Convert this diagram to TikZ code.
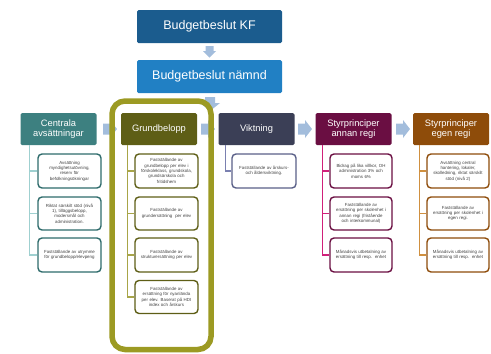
\documentclass[tikz,border=0pt]{standalone}
\usepackage{fontspec}
\setmainfont{Liberation Sans}
\definecolor{kfblue}{HTML}{1B5C8E}
\definecolor{nmblue}{HTML}{2180C4}
\definecolor{arrowblue}{HTML}{A3BDDC}
\definecolor{cteal}{HTML}{3D8080}
\definecolor{cteald}{HTML}{2E6B6B}
\definecolor{ctealL}{HTML}{9FD0D0}
\definecolor{golive}{HTML}{5E5E16}
\definecolor{goliveL}{HTML}{A8A548}
\definecolor{frameol}{HTML}{9C9A23}
\definecolor{vslate}{HTML}{3B3F56}
\definecolor{vslateB}{HTML}{5A6088}
\definecolor{vslateL}{HTML}{7A80B0}
\definecolor{amaroon}{HTML}{6A0E42}
\definecolor{amaroonL}{HTML}{D0207A}
\definecolor{ebrown}{HTML}{8E4C0A}
\definecolor{ebrownL}{HTML}{D09040}
\definecolor{subtext}{HTML}{404040}
\tikzset{
  topbox/.style={draw=none, rounded corners=1.5pt, minimum width=145pt, minimum height=33pt,
    text=white, font=\fontsize{12.5}{14}\selectfont, inner sep=0pt},
  hdr/.style={draw=none, rounded corners=1.5pt, minimum width=76pt, minimum height=32pt,
    text=white, align=center, font=\fontsize{9.3}{10.3}\selectfont, inner sep=0pt},
  subbox/.style={fill=white, line width=1.4pt, rounded corners=4pt, text=subtext, align=center,
    font=\fontsize{4.4}{5.3}\selectfont, inner sep=0pt, text width=60pt},
  conn/.style={line width=1.2pt},
  blockarrow/.style={fill=arrowblue, draw=none}
}
\begin{document}
\begin{tikzpicture}[x=1pt,y=-1pt]
\useasboundingbox (0,0) rectangle (491,354);
% top boxes
\node[topbox, fill=kfblue] (kf) at (209.5,26.5) {Budgetbeslut KF};
\node[topbox, fill=nmblue] (nm) at (209.5,76.5) {Budgetbeslut nämnd};
% down arrows
\fill[blockarrow] (205.5,46) -- (213.5,46) -- (213.5,51) -- (216,51) -- (209.5,57.5) -- (203,51) -- (205.5,51) -- cycle;
\fill[blockarrow] (205,97) -- (215,97) -- (215,103) -- (220,103) -- (210,111) -- (200,103) -- (205,103) -- cycle;
% right arrows
\foreach \ax in {103,201,298,396}{
  \fill[blockarrow] (\ax,123.5) -- (\ax+7,123.5) -- (\ax+7,120) -- (\ax+14,129) -- (\ax+7,138) -- (\ax+7,134.5) -- (\ax,134.5) -- cycle;
}
% highlight frame
\draw[frameol, line width=5.5pt, rounded corners=13pt] (112,101) rectangle (211,349.5);
% headers
\node[hdr, fill=cteal] (c) at (58.5,129) {Centrala\\avsättningar};
\node[hdr, fill=golive] (g) at (159,129) {Grundbelopp};
\node[hdr, fill=vslate] (v) at (256.5,129) {Viktning};
\node[hdr, fill=amaroon] (a) at (353.5,129) {Styrprinciper\\annan regi};
\node[hdr, fill=ebrown] (e) at (451,129) {Styrprinciper\\egen regi};
% connector start points
\coordinate (cl) at ([xshift=9pt]c.south west);
\coordinate (gl) at ([xshift=6.5pt]g.south west);
\coordinate (vl) at ([xshift=7pt]v.south west);
\coordinate (al) at ([xshift=7pt]a.south west);
\coordinate (el) at ([xshift=7pt]e.south west);
% Centrala sub boxes
\node[subbox, draw=cteald, minimum width=63pt, minimum height=34pt] (c1) at (69.5,171) {Avsättning\\myndighetsutövning,\\reserv för\\befolkningsökningar};
\node[subbox, draw=cteald, minimum width=63pt, minimum height=33pt] (c2) at (69.5,213.5) {Riktat särskilt stöd (nivå\\1), tilläggsbelopp,\\modersmål och\\administration.};
\node[subbox, draw=cteald, minimum width=63pt, minimum height=34pt] (c3) at (69.5,255) {Fastställande av utrymme\\för grundbelopp/elevpeng};
% Grundbelopp sub boxes
\node[subbox, draw=golive, minimum width=63pt, minimum height=34pt] (g1) at (166.5,171) {Fastställande av\\grundbelopp per elev i\\förskoleklass, grundskola,\\grundsärskola och\\fritidshem};
\node[subbox, draw=golive, minimum width=63pt, minimum height=33pt] (g2) at (166.5,213.5) {Fastställande av\\grundersättning\ \ per elev};
\node[subbox, draw=golive, minimum width=63pt, minimum height=34pt] (g3) at (166.5,255) {Fastställande av\\strukturersättning per elev};
\node[subbox, draw=golive, minimum width=63pt, minimum height=33pt] (g4) at (166.5,297) {Fastställande av\\ersättning för nyanlända\\per elev. Baserat på HDI\\index och årskurs};
% Viktning sub box
\node[subbox, draw=vslateB, minimum width=64pt, minimum height=34pt] (v1) at (264,171) {Fastställande av årskurs-\\och åldersviktning.};
% Annan regi
\node[subbox, draw=amaroon, minimum width=62pt, minimum height=34pt] (a1) at (361,171) {Bidrag på lika villkor, OH\\administration 3\% och\\moms 6\%};
\node[subbox, draw=amaroon, minimum width=62pt, minimum height=33pt] (a2) at (361,213.5) {Fastställande av\\ersättning per skolenhet i\\annan regi (fristående\\och interkommunal)};
\node[subbox, draw=amaroon, minimum width=62pt, minimum height=34pt] (a3) at (361,255) {Månadsvis utbetalning av\\ersättning till resp.\ \ enhet};
% Egen regi
\node[subbox, draw=ebrown, minimum width=62pt, minimum height=34pt] (e1) at (458,171) {Avsättning central\\hantering, lokaler,\\skolledning, riktat särskilt\\stöd (nivå 2)};
\node[subbox, draw=ebrown, minimum width=62pt, minimum height=33pt] (e2) at (458,213.5) {Fastställande av\\ersättning per skolenhet i\\egen regi.};
\node[subbox, draw=ebrown, minimum width=62pt, minimum height=34pt] (e3) at (458,255) {Månadsvis utbetalning av\\ersättning till resp.\ \ enhet};
% connectors
\draw[conn, ctealL] (cl) |- (c1.west);
\draw[conn, ctealL] (cl) |- (c2.west);
\draw[conn, ctealL] (cl) |- (c3.west);
\draw[conn, goliveL] (gl) |- (g1.west);
\draw[conn, goliveL] (gl) |- (g2.west);
\draw[conn, goliveL] (gl) |- (g3.west);
\draw[conn, goliveL] (gl) |- (g4.west);
\draw[conn, vslateL] (vl) |- (v1.west);
\draw[conn, amaroonL] (al) |- (a1.west);
\draw[conn, amaroonL] (al) |- (a2.west);
\draw[conn, amaroonL] (al) |- (a3.west);
\draw[conn, ebrownL] (el) |- (e1.west);
\draw[conn, ebrownL] (el) |- (e2.west);
\draw[conn, ebrownL] (el) |- (e3.west);
\end{tikzpicture}
\end{document}
